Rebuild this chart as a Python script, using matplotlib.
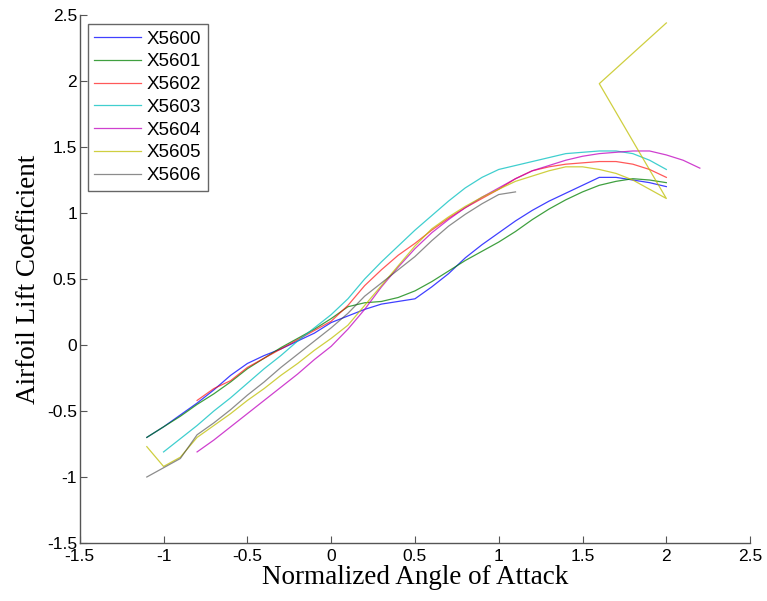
import numpy as np
import matplotlib
matplotlib.use("Agg")
import matplotlib.pyplot as plt

# angle of attack grid (normalized)
x_full = np.round(np.arange(-1.1, 2.01, 0.1), 2)

x5600 = [-0.70, -0.62, -0.53, -0.44, -0.34, -0.23, -0.14, -0.08, -0.03, 0.03,
         0.09, 0.17, 0.22, 0.27, 0.31, 0.33, 0.35, 0.44, 0.54, 0.66,
         0.76, 0.85, 0.94, 1.02, 1.09, 1.15, 1.21, 1.27, 1.27, 1.25,
         1.23, 1.20]
x5601 = [-0.70, -0.62, -0.54, -0.45, -0.37, -0.28, -0.18, -0.10, -0.02, 0.05,
         0.12, 0.20, 0.29, 0.32, 0.33, 0.36, 0.41, 0.48, 0.56, 0.64,
         0.71, 0.78, 0.86, 0.95, 1.03, 1.10, 1.16, 1.21, 1.24, 1.26,
         1.25, 1.23]

x_5602 = np.round(np.arange(-0.8, 2.01, 0.1), 2)
x5602 = [-0.42, -0.33, -0.27, -0.17, -0.10, -0.03, 0.04, 0.11, 0.18, 0.30,
         0.45, 0.57, 0.68, 0.77, 0.87, 0.96, 1.04, 1.11, 1.18, 1.26,
         1.32, 1.35, 1.37, 1.38, 1.39, 1.39, 1.37, 1.33, 1.27]

x_5603 = np.round(np.arange(-1.0, 2.01, 0.1), 2)
x5603 = [-0.81, -0.71, -0.61, -0.50, -0.40, -0.29, -0.18, -0.08, 0.03, 0.13,
         0.23, 0.35, 0.50, 0.63, 0.75, 0.87, 0.98, 1.09, 1.19, 1.27,
         1.33, 1.36, 1.39, 1.42, 1.45, 1.46, 1.47, 1.47, 1.45, 1.40,
         1.33]

x_5604 = np.round(np.arange(-0.8, 2.21, 0.1), 2)
x5604 = [-0.81, -0.72, -0.62, -0.52, -0.42, -0.32, -0.22, -0.11, -0.01, 0.12,
         0.27, 0.44, 0.59, 0.73, 0.85, 0.95, 1.04, 1.12, 1.19, 1.26,
         1.32, 1.36, 1.40, 1.43, 1.45, 1.46, 1.47, 1.47, 1.44, 1.40,
         1.34]

x_5605 = list(x_full) + [1.6, 2.0]
x5605 = [-0.77, -0.92, -0.85, -0.70, -0.61, -0.52, -0.42, -0.33, -0.23, -0.14,
         -0.04, 0.05, 0.15, 0.30, 0.45, 0.60, 0.75, 0.88, 0.97, 1.05,
         1.12, 1.18, 1.24, 1.28, 1.32, 1.35, 1.35, 1.33, 1.30, 1.25,
         1.18, 1.11, 1.98, 2.44]

x_5606 = np.round(np.arange(-1.1, 1.11, 0.1), 2)
x5606 = [-1.00, -0.93, -0.86, -0.68, -0.59, -0.49, -0.38, -0.28, -0.17, -0.07,
         0.03, 0.13, 0.24, 0.37, 0.47, 0.57, 0.67, 0.79, 0.90, 0.99,
         1.07, 1.14, 1.16]

fig = plt.figure(figsize=(7.67, 6.01), dpi=100)
ax = fig.add_axes([0.104, 0.0965, 0.874, 0.8785])

lw = 0.9
ax.plot(x_full, x5600, color="#0000ff", lw=lw, alpha=0.75, label="X5600")
ax.plot(x_full, x5601, color="#008000", lw=lw, alpha=0.75, label="X5601")
ax.plot(x_5602, x5602, color="#ff0000", lw=lw, alpha=0.65, label="X5602")
ax.plot(x_5603, x5603, color="#00bfbf", lw=lw, alpha=0.75, label="X5603")
ax.plot(x_5604, x5604, color="#bf00bf", lw=lw, alpha=0.75, label="X5604")
ax.plot(x_5605, x5605, color="#bfbf00", lw=lw, alpha=0.75, label="X5605")
ax.plot(x_5606, x5606, color="#404040", lw=lw, alpha=0.6, label="X5606")

ax.set_xlim(-1.5, 2.5)
ax.set_ylim(-1.5, 2.5)
ax.set_xticks(np.arange(-1.5, 2.51, 0.5))
ax.set_yticks(np.arange(-1.5, 2.51, 0.5))
ax.set_xticklabels(["-1.5", "-1", "-0.5", "0", "0.5", "1", "1.5", "2", "2.5"])
ax.set_yticklabels(["-1.5", "-1", "-0.5", "0", "0.5", "1", "1.5", "2", "2.5"])

for s in ["top", "right"]:
    ax.spines[s].set_visible(False)
for s in ["left", "bottom"]:
    ax.spines[s].set_color("#555555")
    ax.spines[s].set_linewidth(1.0)
ax.tick_params(direction="in", length=5, width=0.8, color="#555555",
               labelsize=12.5, pad=2)
ax.tick_params(axis="x", pad=4)
for lab in ax.get_xticklabels() + ax.get_yticklabels():
    lab.set_family("Liberation Sans")

ax.set_xlabel("Normalized Angle of Attack", family="Liberation Serif",
              fontsize=19.5, labelpad=1)
ax.set_ylabel("Airfoil Lift Coefficient", family="Liberation Serif",
              fontsize=19.5, labelpad=4)

leg = ax.legend(loc="upper left", prop={"family": "Liberation Sans", "size": 13.5},
                fancybox=False, framealpha=1, edgecolor="#666666",
                handlelength=2.5, handletextpad=0.3, labelspacing=0.3,
                borderpad=0.35, borderaxespad=0, bbox_to_anchor=(0.012, 0.983))
leg.get_frame().set_linewidth(1.0)

fig.savefig("out.png", dpi=100)
